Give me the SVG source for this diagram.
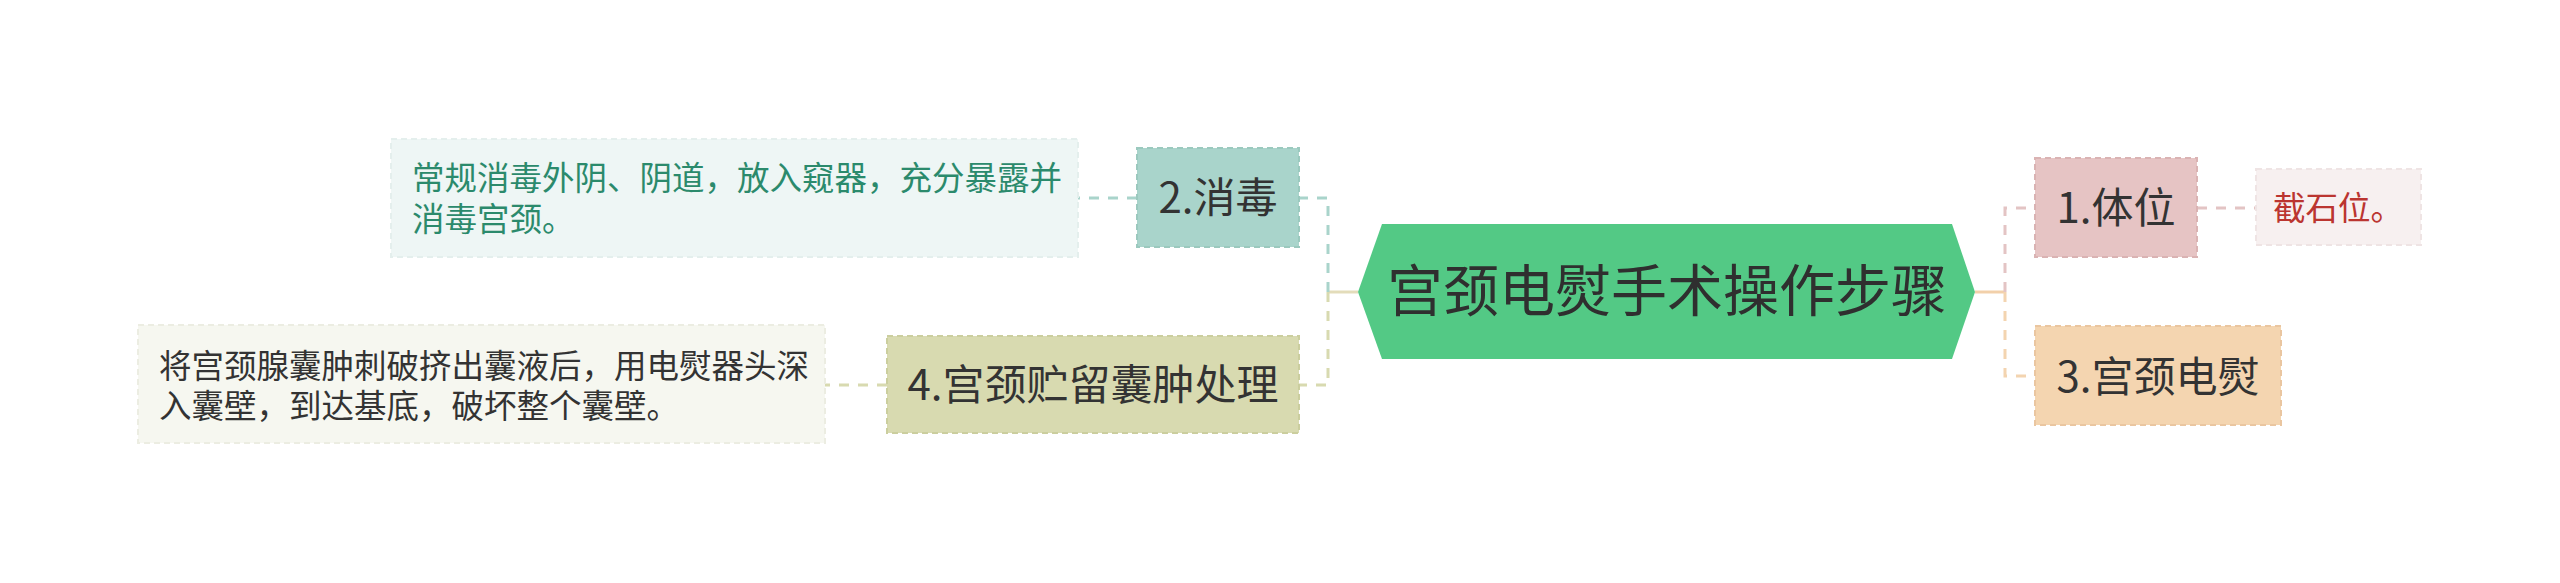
<svg xmlns="http://www.w3.org/2000/svg" width="2560" height="583" viewBox="0 0 2560 583">
<style>
text{font-family:"Noto Sans CJK SC","Microsoft YaHei",sans-serif;}
.t1{font-size:42px;fill:#333333;}
.t2{font-size:32.5px;}
.root{font-size:56px;fill:#2f2f2f;}
.conn{fill:none;stroke-width:3;stroke-dasharray:10 9;}
.solid{fill:none;stroke-width:3;}
.box{stroke-width:2;stroke-dasharray:6 4;}
</style>
<rect width="2560" height="583" fill="#ffffff"/>
<g id="connectors">
  <line class="solid" x1="1358" y1="292" x2="1328" y2="292" stroke="#e3dcba"/>
  <path class="conn" d="M1328 292 V198 H1299" stroke="#a9d4cb"/>
  <path class="conn" d="M1328 292 V385 H1299" stroke="#d8dab0"/>
  <line class="conn" x1="1137" y1="198" x2="1078" y2="198" stroke="#a9d4cb"/>
  <line class="conn" x1="887" y1="385" x2="825" y2="385" stroke="#d8dab0"/>
  <line class="solid" x1="1975" y1="292" x2="2005" y2="292" stroke="#f2d0aa"/>
  <path class="conn" d="M2005 292 V208 H2035" stroke="#e3c4c4"/>
  <path class="conn" d="M2005 292 V376 H2035" stroke="#f3d4b0"/>
  <line class="conn" x1="2197" y1="208" x2="2256" y2="208" stroke="#e3c4c4"/>
</g>
<g id="root">
  <polygon points="1358,292 1382,224 1952,224 1975,292 1952,359 1382,359" fill="#53c985"/>
  <text class="root" x="1667" y="311" text-anchor="middle">宫颈电熨手术操作步骤</text>
</g>
<g id="n2">
  <rect class="box" x="1137" y="148" width="162" height="99" fill="#a9d4cb" stroke="#9bc9be"/>
  <text class="t1" x="1218" y="213" text-anchor="middle">2.消毒</text>
</g>
<g id="n2-note">
  <rect class="box" x="391" y="139" width="687" height="118" fill="#eef6f5" stroke="#e4efed"/>
  <text class="t2" x="412" y="190" fill="#2b8a6c">常规消毒外阴、阴道，放入窥器，充分暴露并<tspan x="412" dy="41">消毒宫颈。</tspan></text>
</g>
<g id="n4">
  <rect class="box" x="887" y="336" width="412" height="97" fill="#d8dab0" stroke="#cbce9e"/>
  <text class="t1" x="1093" y="400" text-anchor="middle">4.宫颈贮留囊肿处理</text>
</g>
<g id="n4-note">
  <rect class="box" x="138" y="325" width="687" height="118" fill="#f6f7f0" stroke="#ecede2"/>
  <text class="t2" x="159" y="378" fill="#333333">将宫颈腺囊肿刺破挤出囊液后，用电熨器头深<tspan x="159" dy="40">入囊壁，到达基底，破坏整个囊壁。</tspan></text>
</g>
<g id="n1">
  <rect class="box" x="2035" y="158" width="162" height="99" fill="#e6c4c4" stroke="#dab3b3"/>
  <text class="t1" x="2116" y="223" text-anchor="middle">1.体位</text>
</g>
<g id="n1-note">
  <rect class="box" x="2256" y="169" width="165" height="76" fill="#f7f0f0" stroke="#efe4e4"/>
  <text class="t2" x="2273" y="220" fill="#bb3530">截石位。</text>
</g>
<g id="n3">
  <rect class="box" x="2035" y="326" width="246" height="99" fill="#f4d5b0" stroke="#eac6a0"/>
  <text class="t1" x="2158" y="392" text-anchor="middle">3.宫颈电熨</text>
</g>
</svg>
